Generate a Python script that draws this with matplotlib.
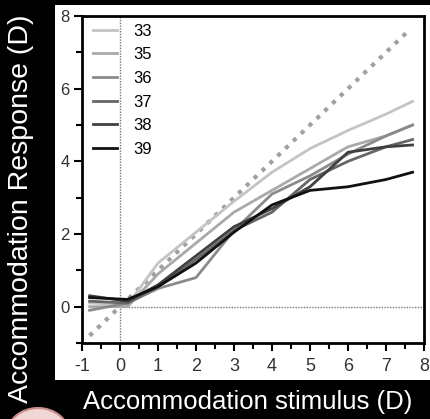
import numpy as np
import matplotlib.pyplot as plt
from matplotlib.patches import Rectangle, Ellipse

plt.rcParams['font.family'] = ['Liberation Sans', 'DejaVu Sans']
plt.rcParams['axes.unicode_minus'] = False

# stimulus levels (D) and responses for each subject
stimulus = [-0.8, 0.2, 1, 2, 3, 4, 5, 6, 7, 7.7]
labels = ['33', '35', '36', '37', '38', '39']
resp_33 = [0.1, 0.05, 1.2, 2.05, 2.9, 3.7, 4.35, 4.85, 5.3, 5.65]
resp_35 = [0.0, 0.0, 0.9, 1.75, 2.6, 3.2, 3.8, 4.4, 4.7, 5.0]
resp_36 = [-0.1, 0.1, 0.5, 0.8, 2.1, 3.1, 3.6, 4.2, 4.7, 5.0]
resp_37 = [0.15, 0.1, 0.55, 1.3, 2.1, 2.6, 3.5, 4.0, 4.4, 4.6]
resp_38 = [0.3, 0.15, 0.6, 1.4, 2.2, 2.7, 3.3, 4.25, 4.4, 4.45]
resp_39 = [0.25, 0.2, 0.55, 1.2, 2.05, 2.8, 3.2, 3.3, 3.5, 3.7]
ideal = [-0.8, 7.6]

responses = [resp_33, resp_35, resp_36, resp_37, resp_38, resp_39]
greys = ['#c4c4c4', '#a9a9a9', '#8a8a8a', '#666666', '#404040', '#111111']

fig = plt.figure(figsize=(4.3, 4.19), dpi=100, facecolor='black')

# white panel behind the plot
fig.patches.append(Rectangle((55/430, 1-380/419), 375/430, 375/419,
                             transform=fig.transFigure, facecolor='white',
                             edgecolor='none', zorder=-2))
fig.patches.append(Ellipse((38/430, 1-434/419), 62/430, 52/419,
                           transform=fig.transFigure, facecolor='#f0d6d4',
                           edgecolor='#c98a8a', lw=1.5, zorder=-2))

ax = fig.add_axes([82/430, 1-343/419, 342/430, 327/419])
ax.set_zorder(1)
ax.set_facecolor('white')

ax.axvline(0, color='#777777', lw=1, ls=(0, (1, 1)), zorder=1)
ax.plot([0, 8], [0, 0], color='#777777', lw=1, ls=(0, (1, 1)), zorder=1)
ax.plot(ideal, ideal, color='#a0a0a0', lw=3, ls=(0, (1, 1.6)), zorder=2)

for lab, r, c in zip(labels, responses, greys):
    ax.plot(stimulus, r, color=c, lw=2, label=lab, zorder=3)

ax.set_xlim(-1, 8)
ax.set_ylim(-1, 8)
ax.set_xticks(np.arange(-1, 9, 1))
ax.set_xticks(np.arange(-0.5, 8, 0.5), minor=True)
ax.set_yticks([0, 2, 4, 6, 8])
ax.set_yticks([-1, 1, 3, 5, 7], minor=True)
ax.tick_params(which='both', direction='out', width=1.5, color='black')
ax.tick_params(which='major', length=6)
ax.tick_params(which='minor', length=4)
ax.tick_params(axis='x', labelsize=13, labelcolor='#333333', pad=5)
ax.tick_params(axis='y', labelsize=12, labelcolor='#333333', pad=3)
for s in ax.spines.values():
    s.set_linewidth(2)

leg = ax.legend(loc='upper left', bbox_to_anchor=(0.0, 1.01), frameon=False,
                fontsize=12, handlelength=1.45, handletextpad=0.95,
                labelspacing=0.52, borderaxespad=0.25)

fig.text(21/430, 1-209/419, 'Accommodation Response (D)', color='white',
         fontsize=20.5, rotation=90, ha='center', va='center')
fig.text(248/430, 1-402/419, 'Accommodation stimulus (D)', color='white',
         fontsize=18.5, ha='center', va='center')

fig.savefig('out.png', dpi=100, facecolor='black')
